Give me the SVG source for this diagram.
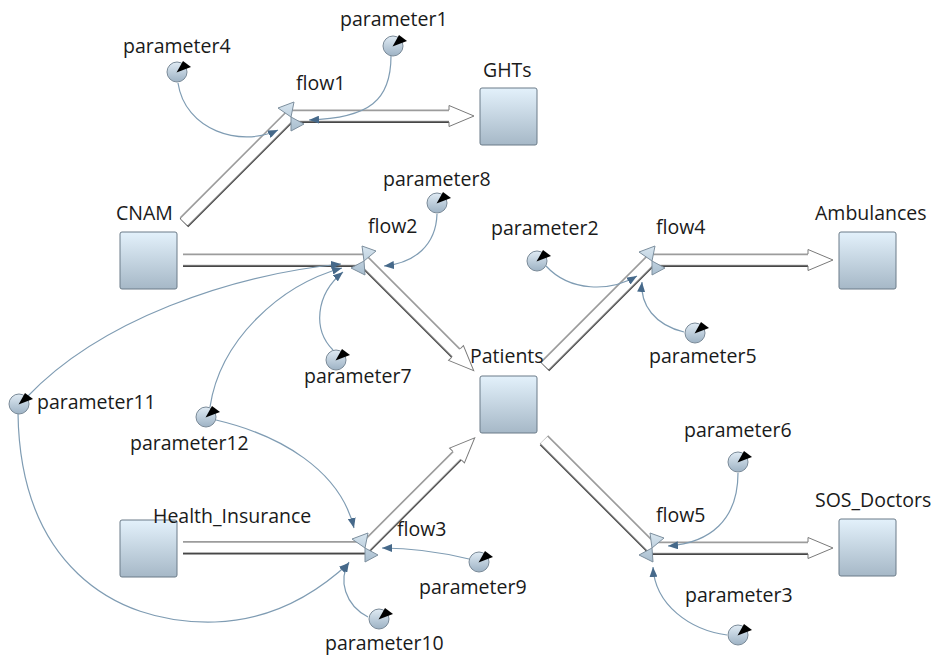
<svg xmlns="http://www.w3.org/2000/svg" xmlns:xlink="http://www.w3.org/1999/xlink" width="938" height="655" viewBox="0 0 938 655">
<style>
text{font-family:"Open Sans","Noto Sans","DejaVu Sans",sans-serif;font-size:19.5px;fill:#1a1a1a}
.stock{fill:url(#gs);stroke:#6b7b88;stroke-width:1}
.pc{fill:url(#gp);stroke:#7a8a98;stroke-width:1}
.pw{fill:#000}
.link{fill:none;stroke:#7f9cb3;stroke-width:1.2;marker-end:url(#la)}
.pd{fill:none;stroke:#474747;stroke-width:12;stroke-linejoin:miter}
.pl{fill:none;stroke:#9c9c9c;stroke-width:12;stroke-linejoin:miter}
.pi{fill:none;stroke:#fff;stroke-width:9.5;stroke-linejoin:miter}
.valve{fill:url(#gv);stroke:#7d8f9e;stroke-width:1}
</style>
<defs>
<linearGradient id="gs" x1="0" y1="0" x2="0" y2="1"><stop offset="0" stop-color="#e3f1fb"/><stop offset="1" stop-color="#a6b8c7"/></linearGradient>
<linearGradient id="gp" x1="0" y1="0" x2="0" y2="1"><stop offset="0" stop-color="#e0ebf4"/><stop offset="1" stop-color="#9db2c4"/></linearGradient>
<linearGradient id="gv" x1="0" y1="0" x2="0" y2="1"><stop offset="0" stop-color="#d8e6f0"/><stop offset="1" stop-color="#a8bdce"/></linearGradient>
<marker id="la" viewBox="0 0 10 8" refX="10" refY="4" markerWidth="10" markerHeight="8" markerUnits="userSpaceOnUse" orient="auto"><path d="M0,0 L10,4 L0,8 Z" fill="#46698a"/></marker>
<g id="ah"><polygon points="0,-10.5 25,0 0,10.5" fill="#fff"/><path d="M0,-6 L0,-10.5 L25,0 L0,10.5 L0,6" fill="none" stroke="#7a7a7a" stroke-width="1"/></g>
<path id="vA" d="M0,0 L-13,-9 L3,-15 Z M0,0 L13,7 L0,14 Z"/>
<path id="vB" d="M0,0 L-2,-15 L12,-10 Z M0,0 L-13,7 L1,14 Z"/>
<g id="pw"><path d="M-0.5,0.5 L6,-11 L14,-5 Z" class="pw"/></g>
</defs>

<g id="connectors">
<g id="flow1-pipe">
<path class="pd" transform="translate(0,1)" d="M184,222 L290,116 L449.5,116"/>
<path class="pl" transform="translate(0,-0.6)" d="M184,222 L290,116 L449.5,116"/>
<path class="pi" d="M184,222 L290,116 L449.5,116"/>
<use xlink:href="#ah" transform="translate(449,116)"/>
</g>
<g id="flow2-pipe">
<path class="pd" transform="translate(0,1)" d="M183,260 L363,260 L456.5,353.5"/>
<path class="pl" transform="translate(0,-0.6)" d="M183,260 L363,260 L456.5,353.5"/>
<path class="pi" d="M183,260 L363,260 L456.5,353.5"/>
<use xlink:href="#ah" transform="translate(456,353) rotate(45)"/>
</g>
<g id="flow3-pipe">
<path class="pd" transform="translate(0,1)" d="M183,547.5 L365,547.5 L457.5,455"/>
<path class="pl" transform="translate(0,-0.6)" d="M183,547.5 L365,547.5 L457.5,455"/>
<path class="pi" d="M183,547.5 L365,547.5 L457.5,455"/>
<use xlink:href="#ah" transform="translate(457,455.5) rotate(-45)"/>
</g>
<g id="flow4-pipe">
<path class="pd" transform="translate(0,1)" d="M545,366 L651,260 L808.5,260"/>
<path class="pl" transform="translate(0,-0.6)" d="M545,366 L651,260 L808.5,260"/>
<path class="pi" d="M545,366 L651,260 L808.5,260"/>
<use xlink:href="#ah" transform="translate(808,260)"/>
</g>
<g id="flow5-pipe">
<path class="pd" transform="translate(0,1)" d="M544,440 L652,548 L808.5,548"/>
<path class="pl" transform="translate(0,-0.6)" d="M544,440 L652,548 L808.5,548"/>
<path class="pi" d="M544,440 L652,548 L808.5,548"/>
<use xlink:href="#ah" transform="translate(808,548)"/>
</g>
<g id="links">
<path class="link" d="M178,83 C185,130 240,148 278,130"/>
<path class="link" d="M391,56 C391,100 370,118 309,120"/>
<path class="link" d="M437,214 C436,245 415,263 384,266"/>
<path class="link" d="M27,397 C100,320 230,275 341,264"/>
<path class="link" d="M210,407 C220,340 280,285 342,268"/>
<path class="link" d="M333,350 C313,330 315,295 343,272"/>
<path class="link" d="M546,266 C570,292 610,292 637,276"/>
<path class="link" d="M684,332 C655,325 640,305 642,282"/>
<path class="link" d="M738,473 C738,520 710,543 668,546"/>
<path class="link" d="M727,635 C690,630 655,605 653,567"/>
<path class="link" d="M216,420 C280,435 340,470 354,528"/>
<path class="link" d="M469,559 C440,552 410,548 382,548"/>
<path class="link" d="M368,617 C345,605 338,580 349,562"/>
<path class="link" d="M18,413 C20,560 110,625 215,622 C275,620 320,590 349,563"/>
</g>
</g>

<g id="flow1"><use xlink:href="#vA" class="valve" transform="translate(291,117)"/><text x="296" y="90">flow1</text></g>
<g id="flow2"><use xlink:href="#vB" class="valve" transform="translate(364,261)"/><text x="368" y="233">flow2</text></g>
<g id="flow3"><use xlink:href="#vA" class="valve" transform="translate(365,548)"/><text x="397" y="536">flow3</text></g>
<g id="flow4"><use xlink:href="#vA" class="valve" transform="translate(652,261)"/><text x="656" y="234">flow4</text></g>
<g id="flow5"><use xlink:href="#vB" class="valve" transform="translate(652,548)"/><text x="656" y="522">flow5</text></g>

<g id="GHTs"><rect class="stock" x="480" y="88" width="57" height="57" rx="2"/><text x="483" y="77">GHTs</text></g>
<g id="CNAM"><rect class="stock" x="120" y="232" width="57" height="57" rx="2"/><text x="116" y="220">CNAM</text></g>
<g id="Patients"><rect class="stock" x="480" y="376" width="57" height="57" rx="2"/><text x="470" y="363">Patients</text></g>
<g id="Ambulances"><rect class="stock" x="839" y="232" width="57" height="57" rx="2"/><text x="815" y="220">Ambulances</text></g>
<g id="Health_Insurance"><rect class="stock" x="120" y="520" width="57" height="57" rx="2"/><text x="153" y="523">Health_Insurance</text></g>
<g id="SOS_Doctors"><rect class="stock" x="839" y="519" width="57" height="57" rx="2"/><text x="815" y="507">SOS_Doctors</text></g>

<g id="parameter1"><circle class="pc" cx="393" cy="46" r="10"/><use xlink:href="#pw" transform="translate(393,46)"/><text x="340" y="26">parameter1</text></g>
<g id="parameter4"><circle class="pc" cx="177" cy="72" r="10"/><use xlink:href="#pw" transform="translate(177,72)"/><text x="123" y="53">parameter4</text></g>
<g id="parameter8"><circle class="pc" cx="437" cy="203" r="10"/><use xlink:href="#pw" transform="translate(437,203)"/><text x="383" y="186">parameter8</text></g>
<g id="parameter2"><circle class="pc" cx="537" cy="261" r="10"/><use xlink:href="#pw" transform="translate(537,261)"/><text x="491" y="235">parameter2</text></g>
<g id="parameter7"><circle class="pc" cx="336" cy="360" r="10"/><use xlink:href="#pw" transform="translate(336,360)"/><text x="304" y="383">parameter7</text></g>
<g id="parameter5"><circle class="pc" cx="695" cy="333" r="10"/><use xlink:href="#pw" transform="translate(695,333)"/><text x="649" y="363">parameter5</text></g>
<g id="parameter11"><circle class="pc" cx="19" cy="404" r="10"/><use xlink:href="#pw" transform="translate(19,404)"/><text x="37" y="409">parameter11</text></g>
<g id="parameter12"><circle class="pc" cx="206" cy="417" r="10"/><use xlink:href="#pw" transform="translate(206,417)"/><text x="130" y="450">parameter12</text></g>
<g id="parameter6"><circle class="pc" cx="738" cy="462" r="10"/><use xlink:href="#pw" transform="translate(738,462)"/><text x="684" y="437">parameter6</text></g>
<g id="parameter9"><circle class="pc" cx="479" cy="562" r="10"/><use xlink:href="#pw" transform="translate(479,562)"/><text x="419" y="594">parameter9</text></g>
<g id="parameter3"><circle class="pc" cx="738" cy="635" r="10"/><use xlink:href="#pw" transform="translate(738,635)"/><text x="685" y="602">parameter3</text></g>
<g id="parameter10"><circle class="pc" cx="379" cy="619" r="10"/><use xlink:href="#pw" transform="translate(379,619)"/><text x="325" y="650">parameter10</text></g>
</svg>
